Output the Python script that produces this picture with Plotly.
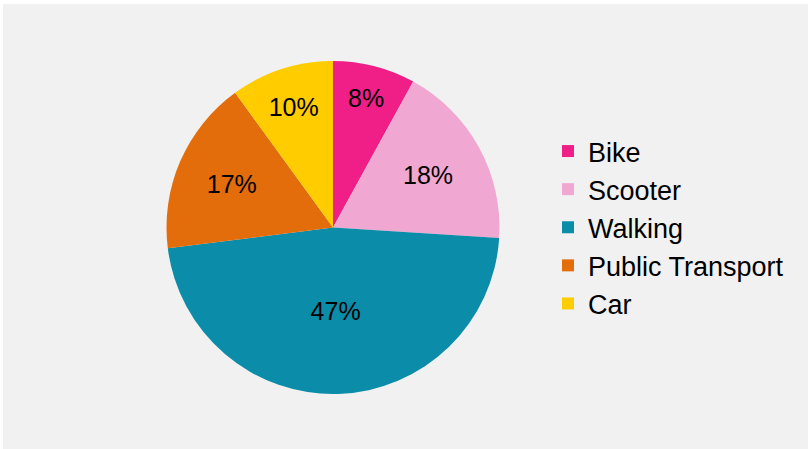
import plotly.graph_objects as go

# commute mode share
modes = ["Bike", "Scooter", "Walking", "Public Transport", "Car"]
shares = [8, 18, 47, 17, 10]
colors = ["#ef1f87", "#f0a8d2", "#0b8ca8", "#e36c0b", "#ffcc00"]

W, H = 808, 449
ML, MR, MT, MB = 0, 0, 61, 55
cx, r = 333, 167

fig = go.Figure(
    go.Pie(
        labels=modes,
        values=shares,
        marker=dict(colors=colors, line=dict(width=0)),
        sort=False,
        direction="clockwise",
        rotation=0,
        textinfo="percent",
        textposition="inside",
        insidetextfont=dict(color="black", size=25),
        insidetextorientation="horizontal",
        domain=dict(x=[(cx - r) / W, (cx + r) / W], y=[0, 1]),
        hoverinfo="label+percent",
    )
)

plot_h = H - MT - MB
fig.update_layout(
    width=W,
    height=H,
    margin=dict(l=ML, r=MR, t=MT, b=MB, autoexpand=False),
    paper_bgcolor="white",
    font=dict(family="Liberation Sans, Arial, sans-serif", size=25, color="black"),
    legend=dict(
        x=548 / W,
        xanchor="left",
        y=0.5,
        yanchor="middle",
        font=dict(size=27),
        bgcolor="rgba(0,0,0,0)",
    ),
    # light grey panel, slightly inset from the top-left corner
    shapes=[
        dict(
            type="rect",
            xref="paper",
            yref="paper",
            x0=3 / W,
            x1=1.1,
            y0=-0.3,
            y1=1 + (MT - 4) / plot_h,
            fillcolor="#f1f1f1",
            line=dict(width=0),
            layer="below",
        )
    ],
)

# drop the default page margin so the figure sits at the window corner
fig.write_html(
    "out.html",
    config={"displayModeBar": False},
    post_script="document.body.style.margin='0';",
)
